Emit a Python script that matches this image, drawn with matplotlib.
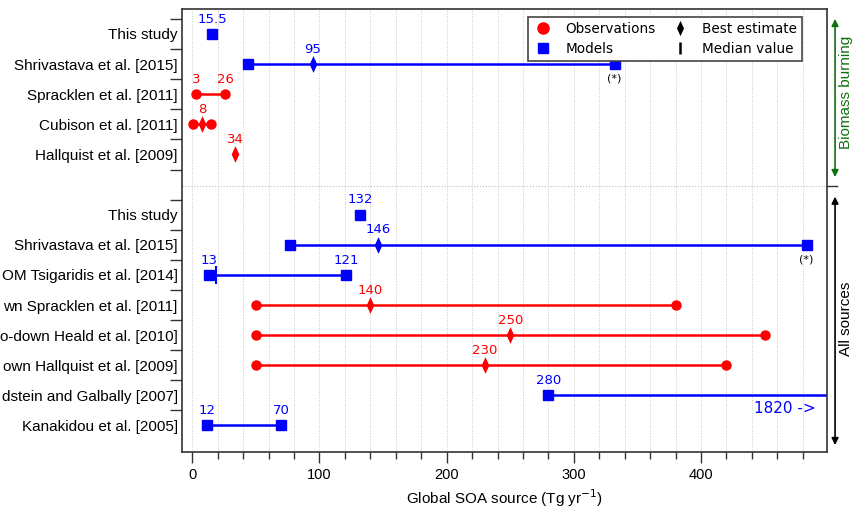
import numpy as np
import matplotlib
matplotlib.use("Agg")
import matplotlib.pyplot as plt
from matplotlib.ticker import MultipleLocator, FixedLocator
from matplotlib.lines import Line2D
from matplotlib.path import Path

plt.rcParams['font.family'] = ['Liberation Sans', 'DejaVu Sans']

# row labels as they appear (the long ones are cut by the left edge in the original)
labels_bb = ["This study", "Shrivastava et al. [2015]", "Spracklen et al. [2011]",
             "Cubison et al. [2011]", "Hallquist et al. [2009]"]
labels_all = ["This study", "Shrivastava et al. [2015]",
              "OM Tsigaridis et al. [2014]", "wn Spracklen et al. [2011]",
              "o-down Heald et al. [2010]", "own Hallquist et al. [2009]",
              "dstein and Galbally [2007]", "Kanakidou et al. [2005]"]
rows = [0, 1, 2, 3, 4, 6, 7, 8, 9, 10, 11, 12, 13]  # row 5 = gap between groups

kind = ["model", "model", "obs", "obs", "obs",
        "model", "model", "model", "obs", "obs", "obs", "model", "model"]
low = [15.5, 44, 3, 1, np.nan, 132, 77, 13, 50, 50, 50, 280, 12]
high = [np.nan, 332, 26, 15, np.nan, np.nan, 483, 121, 380, 450, 420, 1820, 70]
best = [np.nan, 95, np.nan, 8, 34, np.nan, 146, np.nan, 140, 250, 230, np.nan, np.nan]
median = [np.nan] * 7 + [19] + [np.nan] * 5
starred = [1, 7]  # rows whose upper end is marked (*)

colors = {"obs": "#ff0000", "model": "#0000ff"}
markers = {"obs": "o", "model": "s"}
# narrow diamond like the original
thin_diamond = Path([(0, 1), (0.46, 0), (0, -1), (-0.46, 0), (0, 1)],
                    [Path.MOVETO, Path.LINETO, Path.LINETO, Path.LINETO, Path.CLOSEPOLY])

fig = plt.figure(figsize=(8.55, 5.08), dpi=100)
ax = fig.add_axes([182 / 855, 1 - 452 / 508, 645 / 855, 443 / 508])
XMAX = 499
ax.set_xlim(-8, XMAX)
ax.set_ylim(13.88, -0.83)

lbl_kw = dict(textcoords="offset points", ha="center", va="bottom",
              fontsize=9.5, family="DejaVu Sans")

for r, k, lo, hi, be, me in zip(rows, kind, low, high, best, median):
    c = colors[k]
    if not np.isnan(hi):
        ax.plot([lo, hi], [r, r], color=c, lw=1.8, zorder=2)
        if hi < XMAX:
            ax.plot(hi, r, marker=markers[k], color=c, ms=6.5, mec=c, zorder=3)
    if not np.isnan(lo):
        ax.plot(lo, r, marker=markers[k], color=c, ms=6.5, mec=c, zorder=3)
    if not np.isnan(be):
        ax.plot(be, r, marker=thin_diamond, color=c, ms=12, mew=0, zorder=4)
        ax.annotate(f"{be:g}", (be, r), xytext=(0, 6), color=c, **lbl_kw)
    else:
        for v in (lo, hi):
            if not np.isnan(v) and v < XMAX:
                ax.annotate(f"{v:g}", (v, r), xytext=(0, 6), color=c, **lbl_kw)
    if not np.isnan(me):
        ax.plot(me, r, marker="|", color=c, ms=13, mew=1.5, zorder=4)
    if r in starred:
        ax.annotate("(*)", (hi, r), xytext=(0, -7), textcoords="offset points",
                    ha="center", va="top", fontsize=8, family="DejaVu Sans")
    if hi >= XMAX:
        ax.annotate(f"{hi:g} ->", (1, r), xycoords=ax.get_yaxis_transform(),
                    xytext=(-8, -4), textcoords="offset points", ha="right",
                    va="top", fontsize=11, color=c, family="DejaVu Sans")

# axes styling
ax.xaxis.set_major_locator(MultipleLocator(100))
ax.xaxis.set_minor_locator(MultipleLocator(20))
ax.grid(True, axis="x", which="both", color="#c8c8c8", ls=":", lw=0.7)
ax.set_axisbelow(True)
ax.set_yticks(rows)
ax.set_yticklabels(labels_bb + labels_all, fontsize=11)
ax.yaxis.set_minor_locator(FixedLocator([-0.5, 0.5, 1.5, 2.5, 3.5, 4.5, 5.5,
                                         6.5, 7.5, 8.5, 9.5, 10.5, 11.5, 12.5]))
ax.tick_params(axis="y", which="major", length=0, pad=3)
ax.tick_params(axis="y", which="minor", length=9, width=1, color="#333333")
ax.tick_params(axis="x", which="major", length=8, width=1, labelsize=10.5, color="#333333")
ax.tick_params(axis="x", which="minor", length=5, width=1, color="#333333")
for s in ax.spines.values():
    s.set_color("#333333")
    s.set_linewidth(1.2)
ax.set_xlabel("Global SOA source (Tg yr$^{-1}$)", fontsize=11, labelpad=4)

# separator between groups
trans = ax.get_yaxis_transform()
ax.plot([0, 1.015], [5.05, 5.05], transform=trans, color="#bbbbbb", ls=":",
        lw=0.8, clip_on=False)
ax.plot([1, 1.015], [5.05, 5.05], transform=trans, color="#333333", lw=1,
        clip_on=False)

# group arrows on the right
ax.annotate("", xy=(1.0125, -0.5), xytext=(1.0125, 4.75), xycoords=trans,
            arrowprops=dict(arrowstyle="<|-|>", color="#107010", lw=1.2,
                            mutation_scale=10, shrinkA=0, shrinkB=0))
ax.text(1.03, 1.95, "Biomass burning", transform=trans, rotation=90,
        ha="center", va="center", color="#107010", fontsize=11)
ax.annotate("", xy=(1.0125, 5.4), xytext=(1.0125, 13.65), xycoords=trans,
            arrowprops=dict(arrowstyle="<|-|>", color="black", lw=1.2,
                            mutation_scale=10, shrinkA=0, shrinkB=0))
ax.text(1.03, 9.45, "All sources", transform=trans, rotation=90,
        ha="center", va="center", color="black", fontsize=11)

# legend
handles = [Line2D([], [], ls="", marker="o", color="#ff0000", ms=8),
           Line2D([], [], ls="", marker="s", color="#0000ff", ms=7),
           Line2D([], [], ls="", marker=thin_diamond, color="black", ms=11, mew=0),
           Line2D([], [], ls="", marker="|", color="black", ms=8, mew=1.8)]
leg = ax.legend(handles, ["Observations", "Models", "Best estimate", "Median value"],
                ncol=2, loc="upper right", bbox_to_anchor=(0.961, 0.982),
                borderaxespad=0, fancybox=False, edgecolor="#444444", framealpha=1,
                prop=dict(family="DejaVu Sans", size=9.8), handlelength=1.5,
                columnspacing=1.0, handletextpad=0.9, borderpad=0.35,
                labelspacing=0.45)
leg.get_frame().set_linewidth(1.2)

fig.savefig("out.png", dpi=100)
